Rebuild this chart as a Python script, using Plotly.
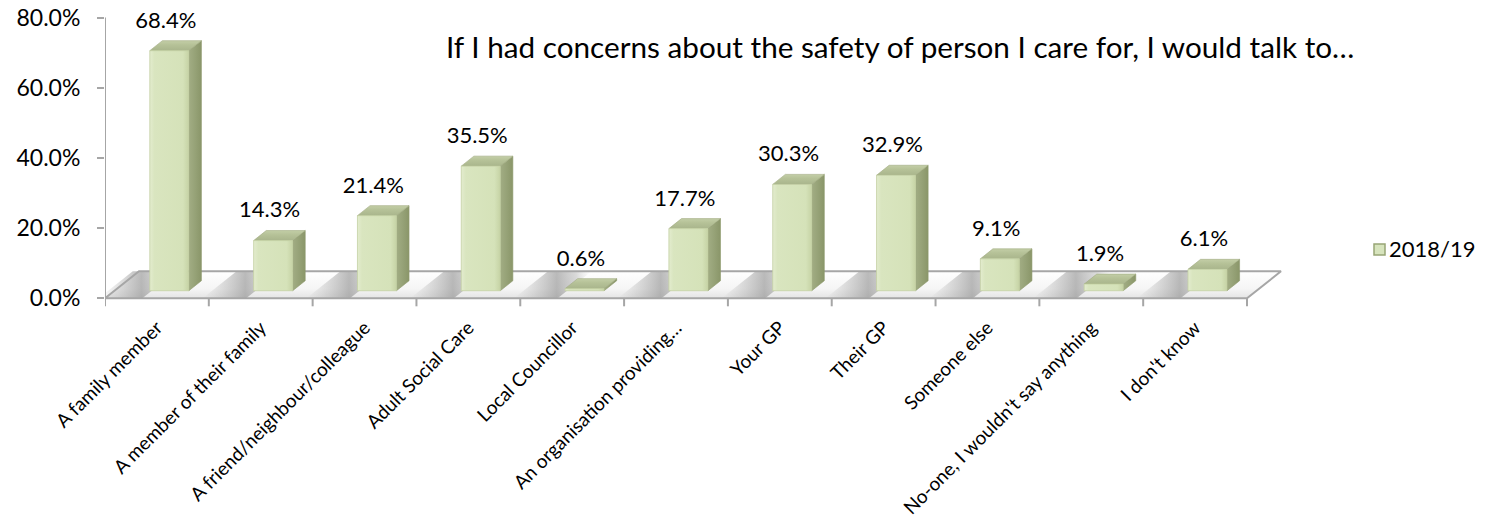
import plotly.graph_objects as go

# ---- data ----
categories = [
    "A family member",
    "A member of their family",
    "A friend/neighbour/colleague",
    "Adult Social Care",
    "Local Councillor",
    "An organisation providing…",
    "Your GP",
    "Their GP",
    "Someone else",
    "No-one, I wouldn't say anything",
    "I don't know",
]
values = [68.4, 14.3, 21.4, 35.5, 0.6, 17.7, 30.3, 32.9, 9.1, 1.9, 6.1]
y_ticks = [0, 20, 40, 60, 80]
series_name = "2018/19"
chart_title = "If I had concerns about the safety of person I care for, I would talk to…"

# ---- page / projection set-up (oblique 3-D look on a 2-D cartesian plot) ----
W, H = 1497, 525
PX_L, PX_R = 105, 1300          # plot area left / right in pixels
PX_TOP, PX_BOT = 10, 312        # plot area top / bottom in pixels
PX_Y0 = 298.3                   # pixel row of the 0 % front edge
UX = (1247 - PX_L) / len(categories)   # pixels per category
UY = 3.51                       # pixels per percentage point

x_range = [-0.5, -0.5 + (PX_R - PX_L) / UX]
y_range = [-(PX_BOT - PX_Y0) / UY, (PX_Y0 - PX_TOP) / UY]

# depth vector of the floor, and of each bar, in data units
FDX, FDY = 34 / UX, 27 / UY
BDX, BDY = 12.6 / UX, 10 / UY
BAR_SHIFT = 12.4 / UX           # front-face centre offset from category centre
BAR_HALF = 19.5 / UX            # half width of the front face
BAR_BASE = 0.28 * FDY           # bars stand part-way back on the floor

n = len(categories)
xc = list(range(n))

FONT = "Lato, 'Open Sans', sans-serif"
GRID = "#a6a6a6"

fig = go.Figure()


def poly(xs, ys, fill=None, line_color=None, line_width=0, gradient=None):
    tr = dict(
        x=list(xs) + [xs[0]],
        y=list(ys) + [ys[0]],
        mode="lines",
        fill="toself",
        hoverinfo="skip",
        showlegend=False,
        line=dict(color=line_color or "rgba(0,0,0,0)", width=line_width),
    )
    if gradient is not None:
        tr["fillgradient"] = gradient
    else:
        tr["fillcolor"] = fill
    fig.add_trace(go.Scatter(**tr))


# floor
fx = [-0.5, n - 0.5, n - 0.5 + FDX, -0.5 + FDX]
fy = [0, 0, FDY, FDY]
poly(fx, fy, gradient=dict(type="vertical",
                           colorscale=[[0, "#e4e4e4"], [0.35, "#f5f5f5"], [1, "#ffffff"]]))

# soft shadows cast on the floor to the left of every bar
for c in xc:
    left = c + BAR_SHIFT - BAR_HALF - 0.28 * FDX
    xa, xb = left - 0.40, left + 0.02
    poly([xa, xb, xb + FDX, xa + FDX], [0, 0, FDY, FDY],
         gradient=dict(type="horizontal",
                       colorscale=[[0, "rgba(150,150,150,0)"],
                                   [0.55, "rgba(130,130,130,0.55)"],
                                   [0.8, "rgba(150,150,150,0.35)"],
                                   [1, "rgba(200,200,200,0)"]]))

# floor outline
fig.add_trace(go.Scatter(x=fx + [fx[0]], y=fy + [fy[0]], mode="lines",
                         line=dict(color=GRID, width=2), hoverinfo="skip",
                         showlegend=False))

# vertical axis line
fig.add_trace(go.Scatter(x=[-0.5, -0.5], y=[0, max(y_ticks)], mode="lines",
                         line=dict(color=GRID, width=2), hoverinfo="skip",
                         showlegend=False))

# category boundary tick marks under the front edge
tx, ty = [], []
for b in range(n + 1):
    tx += [b - 0.5, b - 0.5, None]
    ty += [0, -8 / UY, None]
fig.add_trace(go.Scatter(x=tx, y=ty, mode="lines", line=dict(color=GRID, width=2),
                         hoverinfo="skip", showlegend=False))

# bars: side face, top face, front face
for c, v in zip(xc, values):
    xl = c + BAR_SHIFT - BAR_HALF
    xr = c + BAR_SHIFT + BAR_HALF
    yb = BAR_BASE
    yt = BAR_BASE + v
    poly([xr, xr + BDX, xr + BDX, xr], [yb, yb + BDY, yt + BDY, yt],
         line_color="#8d996b", line_width=0.6,
         gradient=dict(type="horizontal",
                       colorscale=[[0, "#a2ad84"], [0.5, "#96a277"], [1, "#8a9669"]]))
    poly([xl, xr, xr + BDX, xl + BDX], [yt, yt, yt + BDY, yt + BDY],
         line_color="#9faa7f", line_width=0.6,
         gradient=dict(type="vertical",
                       colorscale=[[0, "#a9b58c"], [0.6, "#b6c298"], [1, "#c3cea7"]]))
    poly([xl, xr, xr, xl], [yb, yb, yt, yt],
         line_color="#c4d0a3", line_width=0.8,
         gradient=dict(type="horizontal",
                       colorscale=[[0, "#e3ecce"], [0.12, "#d9e5bf"],
                                   [0.85, "#d5e2b9"], [1, "#c6d3a5"]]))

# value labels above the bars
fig.add_trace(go.Scatter(
    x=[c + 0.085 for c in xc],
    y=[BAR_BASE + v + 28.6 / UY for v in values],
    mode="text",
    text=[f"{v:.1f}%" for v in values],
    textposition="middle center",
    textfont=dict(family=FONT, size=22, color="#000000"),
    hoverinfo="skip", showlegend=False, cliponaxis=False,
))

fig.update_layout(
    width=W, height=H,
    margin=dict(l=PX_L, r=W - PX_R, t=PX_TOP, b=H - PX_BOT, pad=0, autoexpand=False),
    paper_bgcolor="white", plot_bgcolor="white",
    font=dict(family=FONT, color="#000000"),
    showlegend=False,
    xaxis=dict(
        range=x_range, showgrid=False, zeroline=False, showline=False,
        automargin=False,
        tickmode="array", tickvals=xc, ticktext=categories,
        tickangle=-45, ticks="", tickfont=dict(family=FONT, size=19),
    ),
    yaxis=dict(
        range=y_range, showgrid=False, zeroline=False, showline=False,
        automargin=False,
        tickmode="array", tickvals=y_ticks,
        ticktext=[f"{t:.1f}%" for t in y_ticks],
        ticks="outside", ticklen=7, tickwidth=2, tickcolor=GRID,
        ticklabelstandoff=12,
        tickfont=dict(family=FONT, size=23),
    ),
)


# title and legend placed in page pixels
def px_x(p):
    return (p - PX_L) / (PX_R - PX_L)


def px_y(p):
    return (PX_BOT - p) / (PX_BOT - PX_TOP)


fig.add_annotation(text=chart_title, xref="paper", yref="paper",
                   x=px_x(900), y=px_y(47), xanchor="center", yanchor="middle",
                   showarrow=False, font=dict(family=FONT, size=29.7, color="#000000"))
fig.add_shape(type="rect", xref="paper", yref="paper",
              x0=px_x(1374), x1=px_x(1385), y0=px_y(255), y1=px_y(244),
              fillcolor="#d7e4bd", line=dict(color="#98a575", width=1.5))
fig.add_annotation(text=series_name, xref="paper", yref="paper",
                   x=px_x(1387), y=px_y(248), xanchor="left", yanchor="middle",
                   showarrow=False, font=dict(family=FONT, size=22, color="#000000"))

fig.write_html("out.html")
